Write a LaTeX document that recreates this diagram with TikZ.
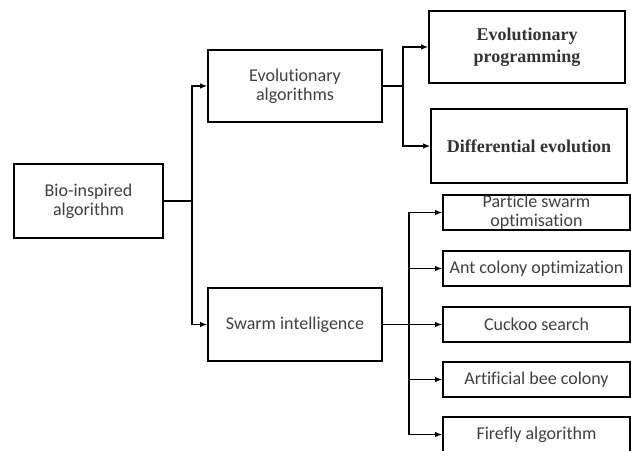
\documentclass[tikz,border=0pt]{standalone}
\usepackage{fontspec}
\setmainfont{Liberation Serif}
\newfontfamily\boxfont[Ligatures=NoCommon]{Carlito}
\usepackage{tikz}
\usetikzlibrary{arrows.meta}
\definecolor{dgray}{rgb}{0.25,0.25,0.25}
\definecolor{sgray}{rgb}{0.2,0.2,0.2}

\tikzset{
  sansbox/.style={draw=black,line width=1.8pt,align=center,text=dgray,
    font=\boxfont\fontsize{18}{19}\selectfont,inner sep=0pt},
  serifbox/.style={draw=black,line width=1.8pt,align=center,text=sgray,
    font=\bfseries\fontsize{18}{22}\selectfont,inner sep=0pt},
  conn/.style={line width=1.2pt},
  arr/.style={conn,-{Latex[length=7pt,width=5.5pt]}}
}

\begin{document}
\begin{tikzpicture}[x=1pt,y=-1pt]
\useasboundingbox[fill=white] (0,0) rectangle (631,450);
% left column
\node[sansbox,minimum width=149pt,minimum height=74pt] (bio) at (88.5,201) {Bio-inspired\\algorithm};
\node[sansbox,minimum width=174pt,minimum height=72pt] (evoalg) at (295,86) {Evolutionary\\algorithms};
\node[sansbox,minimum width=174pt,minimum height=73pt] (swarm) at (295,324.5) {Swarm intelligence};
% evolutionary branch
\node[serifbox,minimum width=196pt,minimum height=72pt] (evoprog) at (527,47) {Evolutionary\\programming};
\node[serifbox,minimum width=196pt,minimum height=74pt] (diffevo) at (529,146) {Differential evolution};
% swarm branch
\node[sansbox,minimum width=187pt,minimum height=35pt] (pso) at (536.5,212.5) {Particle swarm\\optimisation};
\node[sansbox,minimum width=187pt,minimum height=35pt] (aco) at (536.5,268.5) {Ant colony optimization};
\node[sansbox,minimum width=187pt,minimum height=35pt] (cuckoo) at (536.5,324.5) {Cuckoo search};
\node[sansbox,minimum width=187pt,minimum height=35pt] (abc) at (536.5,379.5) {Artificial bee colony};
\node[sansbox,minimum width=187pt,minimum height=35pt] (firefly) at (536.5,434.5) {Firefly algorithm};
% connectors
\coordinate (split1) at (192,201);
\coordinate (split2) at (403,86);
\coordinate (split3) at (409,324.5);
\draw[conn] (bio.east) -- (split1);
\draw[arr] (split1) |- (evoalg.west);
\draw[arr] (split1) |- (swarm.west);
\draw[conn] (evoalg.east) -- (split2);
\draw[arr] (split2) |- (evoprog.west);
\draw[arr] (split2) |- (diffevo.west);
\draw[arr] (swarm.east) -- (cuckoo.west);
\draw[arr] (split3) |- (pso.west);
\draw[arr] (split3) |- (aco.west);
\draw[arr] (split3) |- (abc.west);
\draw[arr] (split3) |- (firefly.west);
\end{tikzpicture}
\end{document}
